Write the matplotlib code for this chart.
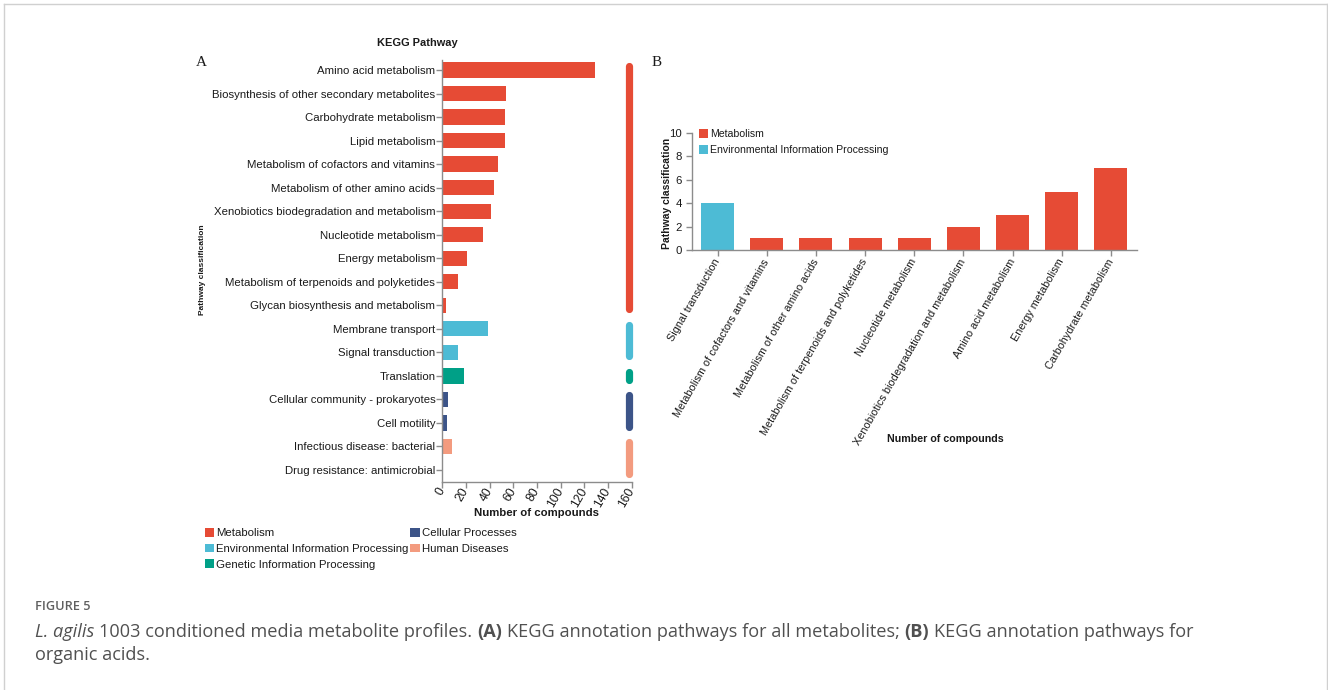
import matplotlib
matplotlib.use("Agg")
import matplotlib.pyplot as plt
from matplotlib.patches import Patch
from matplotlib.lines import Line2D

plt.rcParams['font.family'] = ['Liberation Sans', 'DejaVu Sans']

# 데이터 (A: all metabolites)
pathways_a = [
    "Amino acid metabolism", "Biosynthesis of other secondary metabolites",
    "Carbohydrate metabolism", "Lipid metabolism",
    "Metabolism of cofactors and vitamins", "Metabolism of other amino acids",
    "Xenobiotics biodegradation and metabolism", "Nucleotide metabolism",
    "Energy metabolism", "Metabolism of terpenoids and polyketides",
    "Glycan biosynthesis and metabolism", "Membrane transport",
    "Signal transduction", "Translation", "Cellular community - prokaryotes",
    "Cell motility", "Infectious disease: bacterial", "Drug resistance: antimicrobial",
]
counts_a = [129, 54, 53, 53, 47, 44, 41, 34, 21, 13, 3, 39, 13, 18, 5, 4, 8, 1]
classes_a = (["Metabolism"] * 11 + ["Environmental Information Processing"] * 2
             + ["Genetic Information Processing"] + ["Cellular Processes"] * 2
             + ["Human Diseases"] * 2)

# 데이터 (B: organic acids)
pathways_b = [
    "Signal transduction", "Metabolism of cofactors and vitamins",
    "Metabolism of other amino acids", "Metabolism of terpenoids and polyketides",
    "Nucleotide metabolism", "Xenobiotics biodegradation and metabolism",
    "Amino acid metabolism", "Energy metabolism", "Carbohydrate metabolism",
]
counts_b = [4, 1, 1, 1, 1, 2, 3, 5, 7]
classes_b = ["Environmental Information Processing"] + ["Metabolism"] * 8

class_order = ["Metabolism", "Environmental Information Processing",
               "Genetic Information Processing", "Cellular Processes", "Human Diseases"]
class_colors = {
    "Metabolism": "#E64B35",
    "Environmental Information Processing": "#4DBBD5",
    "Genetic Information Processing": "#00A087",
    "Cellular Processes": "#3C5488",
    "Human Diseases": "#F39B7F",
}

W, H = 1328, 690
spine_c = "#8c8c8c"
text_c = "#1a1a1a"

fig = plt.figure(figsize=(W / 100, H / 100), dpi=100)


def fx(px):
    return px / W


def fy(py):
    return 1 - py / H


def style_axes(ax):
    for s in ["top", "right"]:
        ax.spines[s].set_visible(False)
    for s in ["left", "bottom"]:
        ax.spines[s].set_color(spine_c)
        ax.spines[s].set_linewidth(1.0)
    ax.tick_params(colors=spine_c, labelcolor=text_c, length=4, width=1.0)


# ---- Panel A ----
axA = fig.add_axes([fx(442.3), fy(482), 189.5 / W, 422 / H])
ya = list(range(len(pathways_a)))
axA.barh(ya, counts_a, height=0.65, color=[class_colors[c] for c in classes_a])
axA.set_xlim(0, 160)
axA.set_ylim(17.51, -0.425)
axA.set_yticks(ya)
axA.set_yticklabels(pathways_a, fontsize=8.2)
axA.set_xticks(range(0, 161, 20))
axA.set_xticklabels([str(v) for v in range(0, 161, 20)], fontsize=8.7,
                    rotation=60, ha="right", va="center", rotation_mode="anchor")
style_axes(axA)
axA.tick_params(axis="y", pad=1)
axA.tick_params(axis="x", pad=1)

# group bars on the right
for cls in class_order:
    idx = [i for i, c in enumerate(classes_a) if c == cls]
    axA.add_line(Line2D([157.7, 157.7], [min(idx) - 0.17, max(idx) + 0.17],
                        color=class_colors[cls], lw=5.2, solid_capstyle="round",
                        clip_on=False))

fig.text(fx(417), fy(43), "KEGG Pathway", fontsize=7.9, fontweight="bold",
         ha="center", va="center", color=text_c)
fig.text(fx(537), fy(513), "Number of compounds", fontsize=8.2, fontweight="bold",
         ha="center", va="center", color=text_c)
fig.text(fx(202), fy(270), "Pathway classification", fontsize=6.0, fontweight="bold",
         rotation=90, ha="center", va="center", color=text_c)
fig.text(fx(201), fy(62), "A", fontsize=11, family="Liberation Serif",
         ha="center", va="center", color=text_c)

handles_a = [Patch(facecolor=class_colors[c], edgecolor="none", label=c) for c in class_order]
fig.legend(handles=handles_a, loc="upper left", bbox_to_anchor=(fx(205), fy(528)),
           ncol=2, frameon=False, fontsize=8.2, handlelength=0.8, handleheight=0.8,
           handletextpad=0.2, columnspacing=0.15, labelspacing=0.47, borderpad=0,
           borderaxespad=0, labelcolor=text_c)

# ---- Panel B ----
axB = fig.add_axes([fx(692), fy(250), 445 / W, 117 / H])
xb = list(range(len(pathways_b)))
axB.bar(xb, counts_b, width=0.67, color=[class_colors[c] for c in classes_b])
axB.set_xlim(-0.52, 8.53)
axB.set_ylim(0, 10)
axB.set_yticks(range(0, 11, 2))
axB.set_yticklabels([str(v) for v in range(0, 11, 2)], fontsize=8.2)
axB.set_xticks(xb)
axB.set_xticklabels(pathways_b, fontsize=7.8, rotation=60, ha="right",
                    va="center", rotation_mode="anchor")
style_axes(axB)
axB.tick_params(axis="x", pad=3)

handles_b = [Patch(facecolor=class_colors[c], edgecolor="none", label=c)
             for c in ["Metabolism", "Environmental Information Processing"]]
axB.legend(handles=handles_b, loc="upper left", bbox_to_anchor=(fx(699), fy(129)),
           bbox_transform=fig.transFigure, frameon=False, fontsize=7.6,
           handlelength=0.85, handleheight=0.85, handletextpad=0.2,
           labelspacing=0.6, borderpad=0, borderaxespad=0, labelcolor=text_c)

fig.text(fx(945), fy(439), "Number of compounds", fontsize=7.7, fontweight="bold",
         ha="center", va="center", color=text_c)
fig.text(fx(667), fy(193), "Pathway classification", fontsize=7.5, fontweight="bold",
         rotation=90, ha="center", va="center", color=text_c)
fig.text(fx(657), fy(62), "B", fontsize=11, family="Liberation Serif",
         ha="center", va="center", color=text_c)

# ---- 캡션 ----
cap_c = "#505050"
fig.text(fx(35), fy(607), "FIGURE 5", fontsize=9.2, fontweight="semibold",
         family="Open Sans", ha="left", va="center", color="#606060")

renderer = fig.canvas.get_renderer()
cap_size = 13.1


def draw_runs(x0, y0, runs):
    probe1 = fig.text(0, 0, "a a", fontsize=cap_size, family="Open Sans")
    probe2 = fig.text(0, 0, "aa", fontsize=cap_size, family="Open Sans")
    sp = probe1.get_window_extent(renderer).width - probe2.get_window_extent(renderer).width
    probe1.remove()
    probe2.remove()
    x = x0
    for txt, style in runs:
        t = fig.text(fx(x), fy(y0), txt, fontsize=cap_size, family="Open Sans",
                     fontstyle="italic" if style == "italic" else "normal",
                     fontweight="bold" if style == "bold" else "normal",
                     ha="left", va="baseline", color=cap_c)
        x += t.get_window_extent(renderer).width + sp


draw_runs(35, 637, [
    ("L. agilis", "italic"),
    ("1003 conditioned media metabolite profiles.", "normal"),
    ("(A)", "bold"),
    ("KEGG annotation pathways for all metabolites;", "normal"),
    ("(B)", "bold"),
    ("KEGG annotation pathways for", "normal"),
])
draw_runs(35, 660, [("organic acids.", "normal")])

# 테두리
border_c = "#d0d0d0"
fig.add_artist(Line2D([fx(4), fx(4)], [fy(4), 0], color=border_c, lw=1.0))
fig.add_artist(Line2D([fx(4), fx(1326.5)], [fy(4), fy(4)], color=border_c, lw=1.0))
fig.add_artist(Line2D([fx(1326.5), fx(1326.5)], [fy(4), 0], color=border_c, lw=1.0))

fig.savefig("out.png", dpi=100)
